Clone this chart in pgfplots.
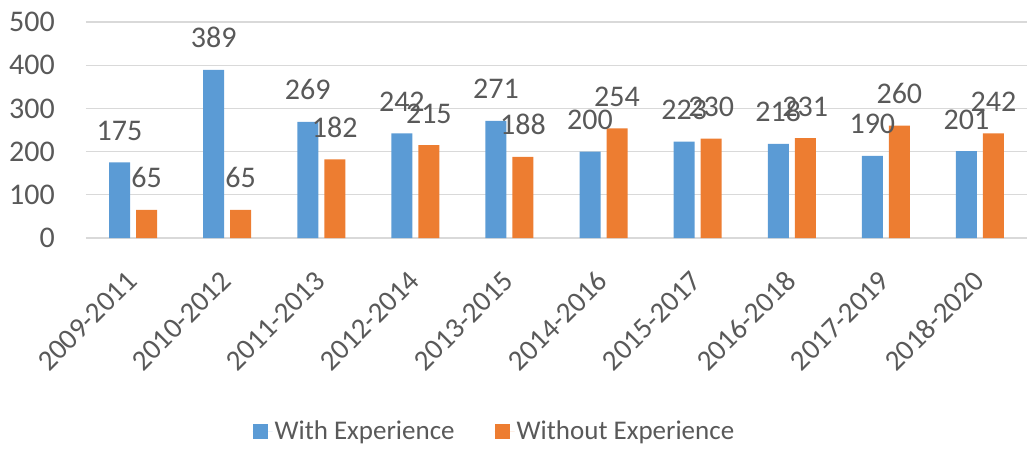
\documentclass[border=0pt]{standalone}
\usepackage{pgfplots}
\pgfplotsset{compat=1.18}
\usepackage{fontspec}
\setmainfont{Carlito}
\definecolor{cblue}{HTML}{5B9BD5}
\definecolor{corange}{HTML}{ED7D31}
\definecolor{tgray}{HTML}{595959}
\definecolor{ggray}{HTML}{D9D9D9}
\begin{document}
\begin{tikzpicture}
\begin{axis}[
  scale only axis, width=941pt, height=216pt,
  ymin=0, ymax=500, ytick={0,100,200,300,400,500},
  xmin=-0.5, xmax=9.5,
  xtick={0,1,2,3,4,5,6,7,8,9},
  xticklabels={2009-2011,2010-2012,2011-2013,2012-2014,2013-2015,2014-2016,2015-2017,2016-2018,2017-2019,2018-2020},
  ybar=6pt, bar width=21pt,
  axis line style={draw=none},
  major tick length=0pt,
  ymajorgrids, major grid style={ggray, line width=1.3pt},
  clip=false,
  /pgf/number format/assume math mode=true,
  yticklabel style={font=\fontsize{30}{36}\selectfont, color=tgray, inner sep=0pt, anchor=east, xshift=-31pt},
  xticklabel style={font=\fontsize{29}{35}\selectfont, color=tgray, inner sep=0pt, yshift=-38pt, xshift=-1pt, rotate=45, anchor=east},
  nodes near coords,
  nodes near coords style={font=\fontsize{30}{36}\selectfont, color=tgray, anchor=base, inner sep=0pt, yshift=22pt},
  legend style={at={(0.434,-0.894)}, anchor=center, draw=none, fill=none, legend columns=2,
    font=\fontsize{27}{32}\selectfont, text=tgray,
    /tikz/every even column/.append style={column sep=38pt}},
  legend image code/.code={\fill[#1, draw=none] (0pt,-7.5pt) rectangle (15pt,7.5pt);\path (0pt,0pt) -- (20pt,0pt);},
]
\addplot[fill=cblue, draw=none] coordinates {(0,175) (1,389) (2,269) (3,242) (4,271) (5,200) (6,223) (7,218) (8,190) (9,201)};
\addplot[fill=corange, draw=none] coordinates {(0,65) (1,65) (2,182) (3,215) (4,188) (5,254) (6,230) (7,231) (8,260) (9,242)};
\legend{With Experience, Without Experience}
\end{axis}
\pgfresetboundingbox
\path[use as bounding box] (-86pt,-212pt) rectangle (941pt,238pt);
\end{tikzpicture}
\end{document}
